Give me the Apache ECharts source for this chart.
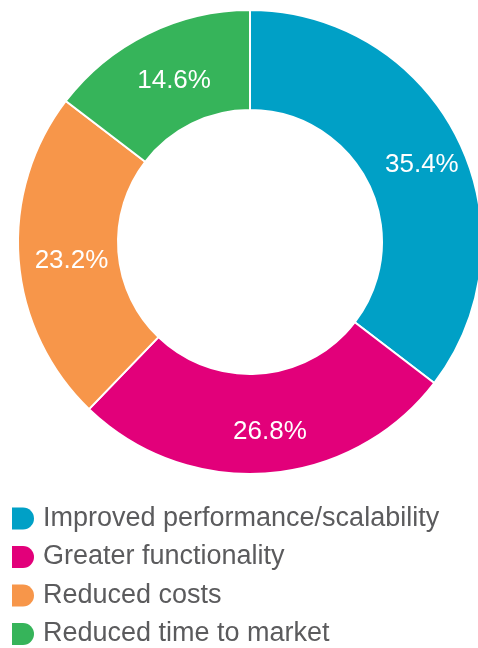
<!DOCTYPE html>
<html>
<head>
<meta charset="utf-8">
<script src="https://cdn.jsdelivr.net/npm/echarts@6/dist/echarts.min.js"></script>
<style>
  html, body { margin: 0; padding: 0; background: #ffffff; }
  #chart { width: 478px; height: 648px; }
</style>
</head>
<body>
<div id="chart"></div>
<script>
// Share of respondents by primary benefit
const categories = [
  'Improved performance/scalability',
  'Greater functionality',
  'Reduced costs',
  'Reduced time to market'
];
const shares = [35.4, 26.8, 23.2, 14.6];
const colors = ['#00A0C6', '#E2007A', '#F7964A', '#36B45A'];

// Legend marker: flat left edge, rounded right side
const markerPath = 'path://M0,0 L11,0 A11,11 0 0 1 11,22 L0,22 Z';

const chart = echarts.init(document.getElementById('chart'), null, { renderer: 'canvas' });

chart.setOption({
  animation: false,
  color: colors,
  legend: {
    orient: 'vertical',
    left: 12,
    top: 505,
    padding: 0,
    icon: markerPath,
    itemWidth: 22,
    itemHeight: 22,
    itemGap: 11.5,
    itemStyle: { borderWidth: 0 },
    textStyle: {
      fontFamily: 'Liberation Sans, Arial, sans-serif',
      fontSize: 27,
      color: '#5b5b5d',
      padding: [0, 0, 0, 4]
    },
    data: categories
  },
  series: [{
    type: 'pie',
    center: [250, 242],
    radius: [132, 232],
    startAngle: 90,
    clockwise: true,
    avoidLabelOverlap: false,
    itemStyle: { borderColor: '#ffffff', borderWidth: 2 },
    label: {
      show: true,
      position: 'inside',
      formatter: '{c}%',
      color: '#ffffff',
      fontFamily: 'Liberation Sans, Arial, sans-serif',
      fontSize: 26,
      offset: [6, 5]
    },
    labelLine: { show: false },
    emphasis: { disabled: true },
    data: categories.map((name, i) => ({ name, value: shares[i] }))
  }]
});
</script>
</body>
</html>
